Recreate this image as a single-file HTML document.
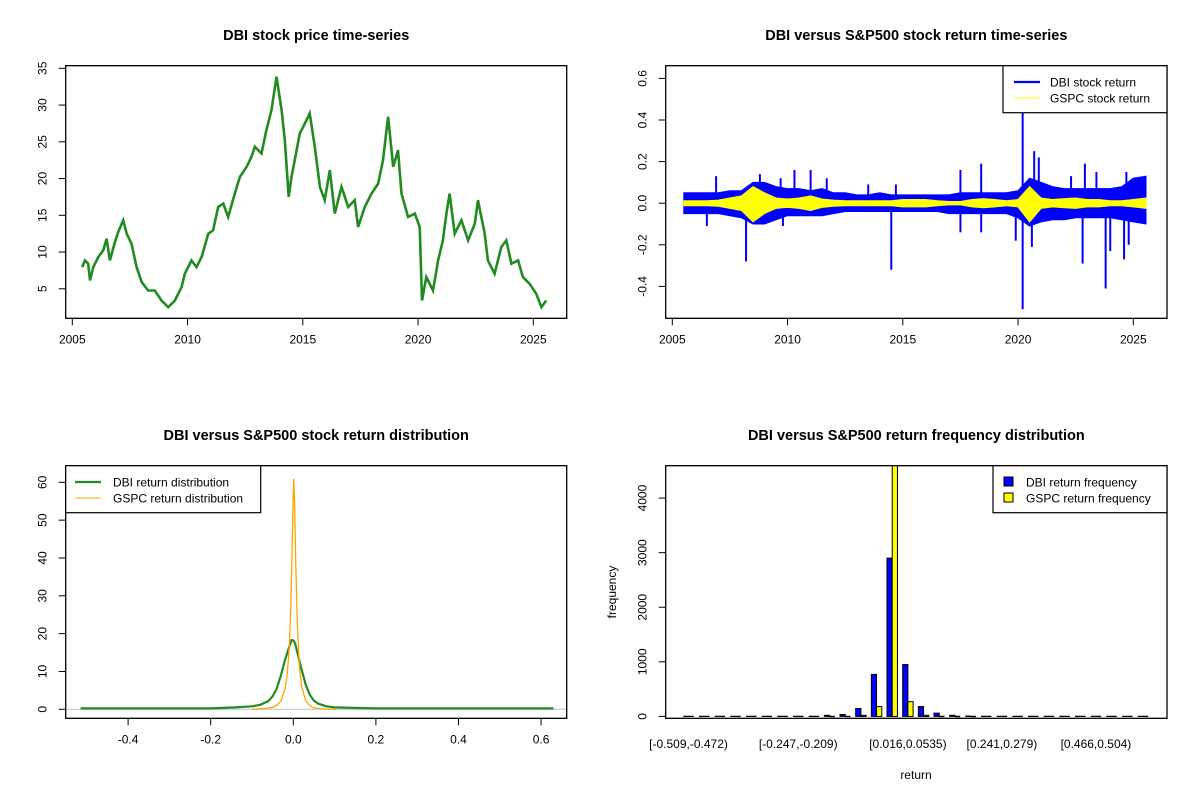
<!DOCTYPE html>
<html><head><meta charset="utf-8"><style>
html,body{margin:0;padding:0;background:#fff;}
svg{display:block;font-family:"Liberation Sans",Arial,sans-serif;}
</style></head><body>
<svg id="chart" width="1200" height="800" viewBox="0 0 1200 800" xmlns="http://www.w3.org/2000/svg">
<rect x="0" y="0" width="1200" height="800" fill="#fff"/>
<g id="g1"></g>
<g id="g2"></g>
<g id="g3"></g>
<g id="g4"></g>
</svg>
<script>
// ---- Data ----
const priceYears=[2005.43,2005.55,2005.69,2005.77,2005.91,2006.13,2006.34,2006.49,2006.63,2006.85,2006.99,2007.21,2007.36,2007.57,2007.79,2008.01,2008.29,2008.58,2008.87,2009.16,2009.45,2009.74,2009.88,2010.17,2010.39,2010.61,2010.9,2011.11,2011.33,2011.55,2011.76,2012.05,2012.27,2012.56,2012.77,2012.92,2013.21,2013.42,2013.64,2013.86,2014.08,2014.22,2014.39,2014.51,2014.65,2014.87,2015.09,2015.3,2015.52,2015.74,2015.95,2016.17,2016.39,2016.68,2016.97,2017.25,2017.4,2017.69,2017.98,2018.27,2018.48,2018.7,2018.92,2019.13,2019.28,2019.57,2019.86,2020.07,2020.17,2020.36,2020.65,2020.87,2021.08,2021.23,2021.37,2021.59,2021.88,2022.17,2022.46,2022.6,2022.89,2023.03,2023.32,2023.61,2023.83,2024.05,2024.34,2024.55,2024.84,2025.13,2025.35,2025.56];
const priceValues=[7.95,8.86,8.41,6.14,7.95,9.32,10.23,11.82,8.86,11.36,12.73,14.32,12.5,11.14,7.95,5.91,4.77,4.77,3.41,2.5,3.41,5.23,7.05,8.86,7.95,9.32,12.5,12.95,16.14,16.59,14.77,17.95,20.23,21.59,22.95,24.32,23.41,26.59,29.32,33.86,29.32,25.23,17.5,20.23,22.5,26.14,27.5,28.86,24.32,18.86,17.05,21.14,15.23,18.86,16.14,17.05,13.41,16.14,17.95,19.32,22.5,28.41,21.59,23.86,17.95,14.77,15.23,13.41,3.41,6.59,4.77,8.86,11.59,15.23,17.95,12.5,14.32,11.59,13.86,17.05,12.5,8.86,7.05,10.68,11.59,8.41,8.86,6.59,5.68,4.32,2.5,3.41];
const priceTicksX=[2005,2010,2015,2020,2025];
const priceTicksY=[5,10,15,20,25,30,35];

const envYears=[2005.5,2006,2006.5,2007,2007.5,2008,2008.5,2009,2009.5,2010,2010.5,2011,2011.5,2012,2012.5,2013,2013.5,2014,2014.5,2015,2015.5,2016,2016.5,2017,2017.5,2018,2018.5,2019,2019.5,2020,2020.5,2021,2021.5,2022,2022.5,2023,2023.5,2024,2024.5,2025,2025.55];
const dbiUp=[0.05,0.05,0.05,0.05,0.06,0.06,0.1,0.1,0.08,0.07,0.07,0.06,0.07,0.05,0.05,0.04,0.04,0.05,0.04,0.04,0.04,0.04,0.04,0.04,0.05,0.05,0.05,0.05,0.05,0.06,0.12,0.1,0.08,0.07,0.07,0.07,0.07,0.07,0.08,0.12,0.13];
const dbiDn=[-0.05,-0.05,-0.05,-0.05,-0.06,-0.07,-0.1,-0.1,-0.08,-0.06,-0.06,-0.06,-0.06,-0.05,-0.04,-0.04,-0.04,-0.04,-0.04,-0.04,-0.04,-0.04,-0.04,-0.05,-0.05,-0.05,-0.05,-0.05,-0.05,-0.07,-0.11,-0.09,-0.08,-0.08,-0.07,-0.07,-0.07,-0.07,-0.08,-0.09,-0.1];
const gspcUp=[0.012,0.012,0.012,0.015,0.025,0.035,0.08,0.05,0.025,0.02,0.025,0.035,0.02,0.015,0.012,0.012,0.012,0.012,0.012,0.018,0.018,0.018,0.012,0.008,0.008,0.018,0.022,0.018,0.012,0.018,0.08,0.025,0.018,0.022,0.025,0.018,0.018,0.012,0.012,0.018,0.025];
const gspcDn=[-0.012,-0.012,-0.012,-0.015,-0.025,-0.035,-0.09,-0.05,-0.025,-0.02,-0.025,-0.035,-0.02,-0.015,-0.012,-0.012,-0.012,-0.012,-0.012,-0.018,-0.018,-0.018,-0.012,-0.008,-0.008,-0.018,-0.022,-0.018,-0.012,-0.018,-0.09,-0.025,-0.018,-0.022,-0.025,-0.018,-0.018,-0.012,-0.012,-0.018,-0.025];
const spikeYears=[2006.9,2008.8,2009.7,2010.3,2011.0,2011.7,2013.5,2014.7,2017.5,2018.4,2020.2,2020.7,2020.9,2022.3,2022.9,2023.4,2024.7,2006.5,2008.2,2009.8,2014.5,2017.5,2018.4,2019.9,2020.2,2020.6,2022.8,2023.8,2024.0,2024.6,2024.8];
const spikeValues=[0.13,0.14,0.12,0.16,0.16,0.12,0.09,0.09,0.16,0.19,0.44,0.25,0.22,0.13,0.19,0.15,0.15,-0.11,-0.28,-0.11,-0.32,-0.14,-0.14,-0.18,-0.51,-0.21,-0.29,-0.41,-0.23,-0.27,-0.2];
const returnTicksY=[-0.4,-0.2,0.0,0.2,0.4,0.6];

const dbiDensX=[-0.515,-0.2,-0.14,-0.1,-0.08,-0.06,-0.05,-0.04,-0.03,-0.02,-0.01,-0.004,0,0.004,0.01,0.02,0.03,0.04,0.05,0.06,0.08,0.1,0.154,0.2,0.63];
const dbiDensY=[0.25,0.25,0.5,0.8,1.2,2.2,3.5,5.5,9,13,16.5,18.3,18.2,17.5,15,10.5,6.5,3.8,2.3,1.5,0.8,0.5,0.35,0.25,0.25];
const gspcDensX=[-0.1,-0.07,-0.05,-0.04,-0.03,-0.02,-0.015,-0.01,-0.006,-0.003,0,0.001,0.003,0.006,0.01,0.015,0.02,0.03,0.04,0.05,0.07,0.1];
const gspcDensY=[0,0.2,0.5,1,2.2,5.5,9,16,27,42,58,61,55,38,22,11,6,2.3,0.9,0.4,0.1,0];
const densTicksX=[-0.4,-0.2,0.0,0.2,0.4,0.6];
const densTicksY=[0,10,20,30,40,50,60];

const binLabels=["[-0.509,-0.472)","[-0.247,-0.209)","[0.016,0.0535)","[0.241,0.279)","[0.466,0.504)"];
const binLabelIdx=[0,7,14,20,26];
const dbiFreq=[0,0,0,0,0,0,0,0,0,20,35,145,770,2900,950,180,60,20,15,0,0,0,0,0,0,0,0,0,0,0];
const gspcFreq=[0,0,0,0,0,0,0,0,0,3,5,20,180,5000,270,20,5,3,3,0,0,0,0,0,0,0,0,0,0,0];
const freqTicksY=[0,1000,2000,3000,4000];

// ---- helpers ----
const NS="http://www.w3.org/2000/svg";
function mk(parent,tag,attrs,text){const e=document.createElementNS(NS,tag);for(const k in attrs)e.setAttribute(k,attrs[k]);if(text!==undefined)e.textContent=text;parent.appendChild(e);return e;}
function box(g,x0,y0,x1,y1){const r=mk(g,'rect',{x:x0,y:y0,width:x1-x0,height:y1-y0,fill:'none',stroke:'#000','stroke-width':1.3});

}
function title(g,cx,y,t){const e=mk(g,'text',{x:cx,y:y,'text-anchor':'middle','font-size':'14.5','font-weight':'bold'},t);

}
function xTick(g,x,yb,label){const l=mk(g,'line',{x1:x,x2:x,y1:yb,y2:yb+7,stroke:'#000','stroke-width':1});


const t=mk(g,'text',{x:x,y:yb+25,'text-anchor':'middle','font-size':'12'},label);

}
function yTick(g,xl,y,label){const l=mk(g,'line',{x1:xl-7,x2:xl,y1:y,y2:y,stroke:'#000','stroke-width':1});


const tx=xl-19;const t=mk(g,'text',{x:tx,y:y,'text-anchor':'middle','font-size':'12',transform:`rotate(-90 ${tx} ${y})`},label);

}
function fmt(v,d){return v.toFixed(d);}

// ---- Panel 1: price ----
(function(){
const g=document.getElementById('g1');
const L=65.7,R=566.7,T=65.7,B=318.3;
const xs=y=>72.3+(y-2005)*23.05;
const ys=p=>68.3+(35-p)*7.35;
let d='';priceYears.forEach((yr,i)=>{d+=(i?'L':'M')+xs(yr).toFixed(1)+' '+ys(priceValues[i]).toFixed(1);});
const p=mk(g,'path',{d:d,fill:'none',stroke:'#228B22','stroke-width':2.6,'stroke-linejoin':'miter'});


box(g,L,T,R,B);
priceTicksX.forEach(v=>xTick(g,xs(v),B,String(v)));
priceTicksY.forEach(v=>yTick(g,L,ys(v),String(v)));
title(g,(L+R)/2,40,'DBI stock price time-series');
})();

// ---- Panel 2: returns ----
(function(){
const g=document.getElementById('g2');
const L=665.7,R=1167,T=65.7,B=318.3;
const xs=y=>672.3+(y-2005)*23.05;
const ys=v=>203.2-v*208;
function band(up,dn,col,name){let d='';envYears.forEach((yr,i)=>{d+=(i?'L':'M')+xs(yr).toFixed(1)+' '+ys(up[i]).toFixed(1);});
for(let i=envYears.length-1;i>=0;i--){d+='L'+xs(envYears[i]).toFixed(1)+' '+ys(dn[i]).toFixed(1);}d+='Z';
const p=mk(g,'path',{d:d,fill:col,stroke:col,'stroke-width':1});

}
band(dbiUp,dbiDn,'#0000FF','dbi-return-band');
spikeYears.forEach((yr,i)=>{const l=mk(g,'line',{x1:xs(yr),x2:xs(yr),y1:ys(0),y2:ys(spikeValues[i]),stroke:'#0000FF','stroke-width':2});

});
band(gspcUp,gspcDn,'#FFFF00','gspc-return-band');
box(g,L,T,R,B);
priceTicksX.forEach(v=>xTick(g,xs(v),B,String(v)));
returnTicksY.forEach(v=>yTick(g,L,ys(v),fmt(v,1)));
title(g,(L+R)/2,40,'DBI versus S&P500 stock return time-series');
const lg=mk(g,'g',{});


mk(lg,'rect',{x:1003,y:65.7,width:164,height:47,fill:'#fff',stroke:'#000','stroke-width':1.2});
mk(lg,'line',{x1:1014,x2:1040,y1:82,y2:82,stroke:'#0000FF','stroke-width':2.2});
mk(lg,'text',{x:1050,y:86.5,'font-size':'12'},'DBI stock return');
mk(lg,'line',{x1:1014,x2:1040,y1:98,y2:98,stroke:'#FFFF00','stroke-width':1});
mk(lg,'text',{x:1050,y:102.5,'font-size':'12'},'GSPC stock return');
})();

// ---- Panel 3: density ----
(function(){
const g=document.getElementById('g3');
const L=65.7,R=566.7,T=465.7,B=718.3;
const xs=v=>293.3+v*413;
const ys=d=>709.3-d*3.783;
const base=mk(g,'line',{x1:L,x2:R,y1:ys(0),y2:ys(0),stroke:'#c8c8c8','stroke-width':1.2});


function curve(X,Y,col,w,name){let d='';X.forEach((x,i)=>{d+=(i?'L':'M')+xs(x).toFixed(1)+' '+ys(Y[i]).toFixed(1);});
const p=mk(g,'path',{d:d,fill:'none',stroke:col,'stroke-width':w});

}
curve(dbiDensX,dbiDensY,'#228B22',2.2,'dbi-density-curve');
curve(gspcDensX,gspcDensY,'#FFA500',1.3,'gspc-density-curve');
box(g,L,T,R,B);
densTicksX.forEach(v=>xTick(g,xs(v),B,fmt(v,1)));
densTicksY.forEach(v=>yTick(g,L,ys(v),String(v)));
title(g,(L+R)/2,440,'DBI versus S&P500 stock return distribution');
const lg=mk(g,'g',{});


mk(lg,'rect',{x:65.7,y:465.7,width:195,height:47,fill:'#fff',stroke:'#000','stroke-width':1.2});
mk(lg,'line',{x1:75,x2:101,y1:482,y2:482,stroke:'#228B22','stroke-width':2.2});
mk(lg,'text',{x:113,y:486.5,'font-size':'12'},'DBI return distribution');
mk(lg,'line',{x1:75,x2:101,y1:498,y2:498,stroke:'#FFA500','stroke-width':1});
mk(lg,'text',{x:113,y:502.5,'font-size':'12'},'GSPC return distribution');
})();

// ---- Panel 4: frequency ----
(function(){
const g=document.getElementById('g4');
const L=665.7,R=1167,T=465.7,B=718.3;
const gx=i=>683.3+i*15.67;
const bw=5.22;
const ys=c=>716.4-c*0.05458;
const cp=mk(g,'clipPath',{id:'clip4'});
mk(cp,'rect',{x:L,y:T,width:R-L,height:B-T});
const bars=mk(g,'g',{'clip-path':'url(#clip4)'});
function bar(x,c,col,name){
const y0=ys(0),y=ys(c);
if(Math.abs(y0-y)<1){
const l=mk(bars,'line',{x1:x,x2:x+bw,y1:y0,y2:y0,stroke:'#000','stroke-width':1.2});


if(c>0){const r=mk(bars,'rect',{x:x,y:y,width:bw,height:1,fill:'#000'});}
return;}
const b=mk(bars,'rect',{x:x,y:y,width:bw,height:y0-y,fill:col,stroke:'#000','stroke-width':1});

}
dbiFreq.forEach((c,i)=>{bar(gx(i),c,'#0000FF','dbi-freq-bar');bar(gx(i)+bw,gspcFreq[i],'#FFFF00','gspc-freq-bar');});
box(g,L,T,R,B);
freqTicksY.forEach(v=>yTick(g,L,ys(v),String(v)));
binLabelIdx.forEach((idx,k)=>{const t=mk(g,'text',{x:gx(idx)+bw,y:748,'text-anchor':'middle','font-size':'12'},binLabels[k]);

});
const xl=mk(g,'text',{x:916,y:779,'text-anchor':'middle','font-size':'12'},'return');


const yl=mk(g,'text',{x:616,y:592,'text-anchor':'middle','font-size':'12',transform:'rotate(-90 616 592)'},'frequency');


title(g,(L+R)/2,440,'DBI versus S&P500 return frequency distribution');
const lg=mk(g,'g',{});


mk(lg,'rect',{x:993,y:465.7,width:174,height:47,fill:'#fff',stroke:'#000','stroke-width':1.2});
mk(lg,'rect',{x:1004,y:477,width:9,height:9,fill:'#0000FF',stroke:'#000','stroke-width':1});
mk(lg,'text',{x:1026,y:486.5,'font-size':'12'},'DBI return frequency');
mk(lg,'rect',{x:1004,y:493,width:9,height:9,fill:'#FFFF00',stroke:'#000','stroke-width':1});
mk(lg,'text',{x:1026,y:502.5,'font-size':'12'},'GSPC return frequency');
})();
</script>
</body></html>
